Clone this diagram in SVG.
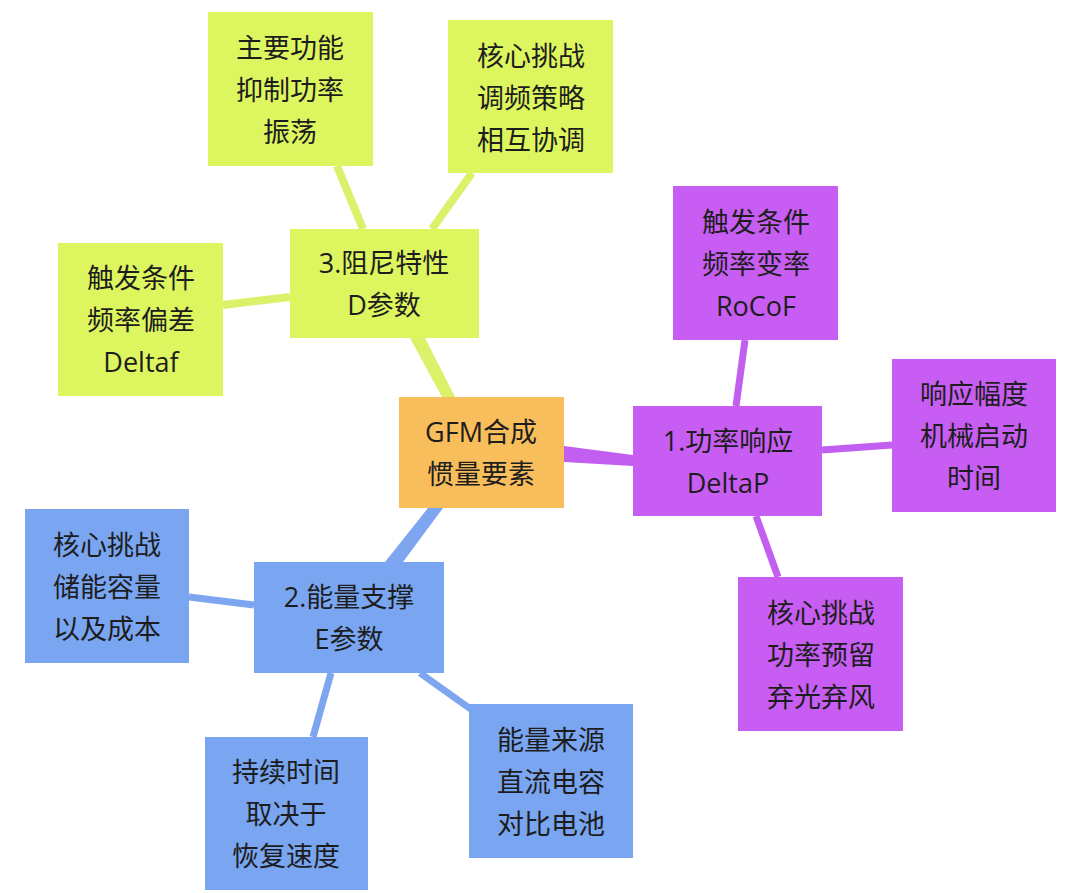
<svg xmlns="http://www.w3.org/2000/svg" width="1080" height="893" viewBox="0 0 1080 893">
<style>
text{font-family:"Open Sans","Noto Sans CJK SC",sans-serif;font-size:27px;fill:#1d1d1d;text-anchor:middle;dominant-baseline:central}
.y{fill:#DDF55E}
.p{fill:#C75DF3}
.b{fill:#79A5F1}
.o{fill:#F9BE5C}
.ly{stroke:#DDF06A;stroke-linecap:butt;fill:none}
.lp{stroke:#C25FF0;stroke-linecap:butt;fill:none}
.lb{stroke:#7EA5F0;stroke-linecap:butt;fill:none}
</style>
<rect width="1080" height="893" fill="#ffffff"/>
<g id="connectors">
<polygon points="410,338 425,338 455,397 442,397" fill="#DDF06A"/>
<polygon points="564,446 564,462 633,466 633,455" fill="#C25FF0"/>
<polygon points="428,508 443,508 403,562 385,562" fill="#7EA5F0"/>
<line class="ly" x1="337" y1="166" x2="363" y2="229" stroke-width="8"/>
<line class="ly" x1="472" y1="173" x2="432" y2="229" stroke-width="8"/>
<line class="ly" x1="223" y1="305" x2="290" y2="297" stroke-width="8"/>
<line class="lp" x1="745" y1="340" x2="736" y2="406" stroke-width="7"/>
<line class="lp" x1="822" y1="450" x2="892" y2="445" stroke-width="7"/>
<line class="lp" x1="756" y1="516" x2="778" y2="577" stroke-width="7"/>
<line class="lb" x1="189" y1="597" x2="254" y2="605" stroke-width="7"/>
<line class="lb" x1="331" y1="673" x2="313" y2="737" stroke-width="7"/>
<line class="lb" x1="420" y1="673" x2="472" y2="710" stroke-width="7"/>
</g>
<g id="center"><rect class="o" x="399" y="397" width="165" height="111"/><text x="481" y="431">GFM合成</text><text x="481" y="473">惯量要素</text></g>
<g id="d-main"><rect class="y" x="290" y="229" width="189" height="109"/><text x="384" y="262">3.阻尼特性</text><text x="384" y="304">D参数</text></g>
<g id="d-func"><rect class="y" x="208" y="12" width="165" height="154"/><text x="290" y="47">主要功能</text><text x="290" y="89">抑制功率</text><text x="290" y="131">振荡</text></g>
<g id="d-chal"><rect class="y" x="448" y="20" width="165" height="153"/><text x="531" y="55">核心挑战</text><text x="531" y="97">调频策略</text><text x="531" y="139">相互协调</text></g>
<g id="d-trig"><rect class="y" x="58" y="243" width="165" height="153"/><text x="141" y="277">触发条件</text><text x="141" y="319">频率偏差</text><text x="141" y="361">Deltaf</text></g>
<g id="p-main"><rect class="p" x="633" y="406" width="189" height="110"/><text x="728" y="440">1.功率响应</text><text x="728" y="482">DeltaP</text></g>
<g id="p-trig"><rect class="p" x="673" y="186" width="165" height="154"/><text x="756" y="221">触发条件</text><text x="756" y="263">频率变率</text><text x="756" y="305">RoCoF</text></g>
<g id="p-resp"><rect class="p" x="892" y="359" width="164" height="153"/><text x="974" y="393">响应幅度</text><text x="974" y="435">机械启动</text><text x="974" y="477">时间</text></g>
<g id="p-chal"><rect class="p" x="738" y="577" width="165" height="154"/><text x="821" y="612">核心挑战</text><text x="821" y="654">功率预留</text><text x="821" y="696">弃光弃风</text></g>
<g id="e-main"><rect class="b" x="254" y="562" width="190" height="111"/><text x="349" y="596">2.能量支撑</text><text x="349" y="638">E参数</text></g>
<g id="e-chal"><rect class="b" x="25" y="509" width="164" height="154"/><text x="107" y="544">核心挑战</text><text x="107" y="586">储能容量</text><text x="107" y="628">以及成本</text></g>
<g id="e-dur"><rect class="b" x="205" y="737" width="163" height="153"/><text x="286" y="771">持续时间</text><text x="286" y="813">取决于</text><text x="286" y="855">恢复速度</text></g>
<g id="e-src"><rect class="b" x="469" y="704" width="164" height="154"/><text x="551" y="739">能量来源</text><text x="551" y="781">直流电容</text><text x="551" y="823">对比电池</text></g>
</svg>
